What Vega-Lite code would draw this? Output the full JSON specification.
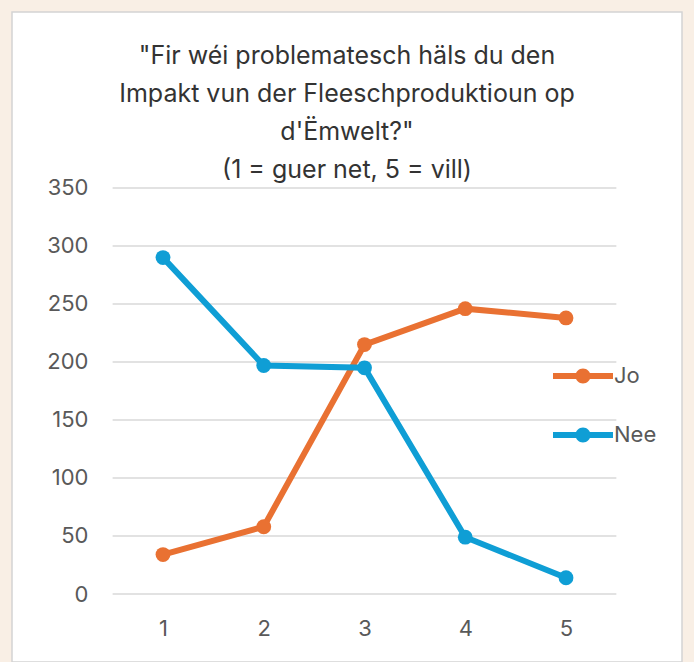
{
  "$schema": "https://vega.github.io/schema/vega-lite/v6.json",
  "width": 670,
  "height": 650,
  "autosize": {"type": "none"},
  "padding": {"left": 12, "top": 12, "right": 12, "bottom": 0},
  "background": "#f9efe5",
  "config": {
    "view": {"fill": "white", "stroke": "#d4d4d4", "strokeWidth": 1.5},
    "font": "Inter"
  },
  "title": {
    "text": ["\"Fir wéi problematesch häls du den", "Impakt vun der Fleeschproduktioun op", "d'Ëmwelt?\"", "(1 = guer net, 5 = vill)"],
    "anchor": "middle",
    "baseline": "top",
    "offset": -171,
    "fontSize": 25,
    "fontWeight": "normal",
    "lineHeight": 38,
    "color": "#333333",
    "font": "Inter"
  },
  "datasets": {
    "series": [
      {"x": 1, "series": "Jo", "value": 34},
      {"x": 2, "series": "Jo", "value": 58},
      {"x": 3, "series": "Jo", "value": 215},
      {"x": 4, "series": "Jo", "value": 246},
      {"x": 5, "series": "Jo", "value": 238},
      {"x": 1, "series": "Nee", "value": 290},
      {"x": 2, "series": "Nee", "value": 197},
      {"x": 3, "series": "Nee", "value": 195},
      {"x": 4, "series": "Nee", "value": 49},
      {"x": 5, "series": "Nee", "value": 14}
    ],
    "grid": [
      {"v": 0}, {"v": 50}, {"v": 100}, {"v": 150}, {"v": 200}, {"v": 250}, {"v": 300}, {"v": 350}
    ]
  },
  "layer": [
    {
      "data": {"name": "grid"},
      "mark": {"type": "rule", "color": "#d9d9d9", "strokeWidth": 1.5},
      "encoding": {
        "x": {"datum": 0.5, "type": "quantitative", "scale": {"domain": [-0.4988, 6.1514], "nice": false, "zero": false},
          "axis": {"values": [1, 2, 3, 4, 5], "format": "d", "domain": false, "ticks": false, "grid": false, "title": null, "offset": -44, "labelPadding": 0, "labelFontSize": 22, "labelColor": "#595959", "labelFont": "Inter"}},
        "x2": {"datum": 5.5},
        "y": {"field": "v", "type": "quantitative", "scale": {"domain": [-58.62, 501.72], "nice": false, "zero": false},
          "axis": {"values": [0, 50, 100, 150, 200, 250, 300, 350], "domain": false, "ticks": false, "grid": false, "title": null, "offset": -80, "labelPadding": 4, "labelFontSize": 22, "labelColor": "#595959", "labelFont": "Inter"}}
      }
    },
    {
      "data": {"name": "series"},
      "mark": {"type": "line", "strokeWidth": 6},
      "encoding": {
        "x": {"field": "x", "type": "quantitative"},
        "y": {"field": "value", "type": "quantitative"},
        "color": {"field": "series", "type": "nominal", "scale": {"domain": ["Jo", "Nee"], "range": ["#E97132", "#0F9ED5"]}}
      }
    },
    {
      "data": {"name": "series"},
      "mark": {"type": "point", "filled": true, "size": 220, "opacity": 1},
      "encoding": {
        "x": {"field": "x", "type": "quantitative"},
        "y": {"field": "value", "type": "quantitative"},
        "color": {"field": "series", "type": "nominal",
          "legend": {"title": null, "orient": "none", "legendX": 556, "legendY": 349,
            "symbolType": "M-2,-0.2H2V0.2H-2Z M-0.5,0A0.5,0.5 0 1,1 0.5,0A0.5,0.5 0 1,1 -0.5,0Z",
            "symbolSize": 900, "symbolStrokeWidth": 0, "symbolOpacity": 1, "rowPadding": 33, "labelOffset": 16,
            "labelFontSize": 22, "labelColor": "#595959", "labelFont": "Inter", "padding": 0}}
      }
    }
  ]
}
